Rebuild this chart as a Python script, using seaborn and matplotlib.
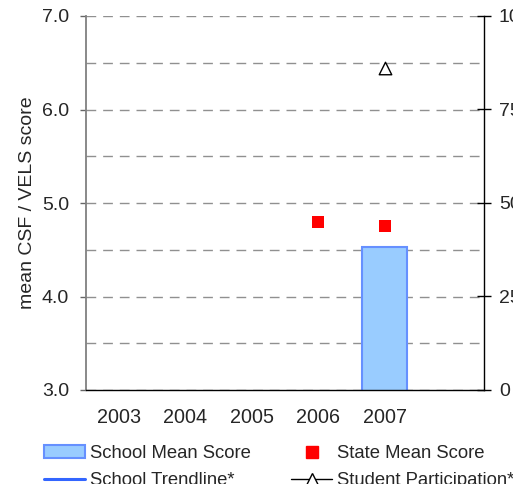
import numpy as np
import pandas as pd
import matplotlib
matplotlib.use("Agg")
import matplotlib.pyplot as plt
import seaborn as sns
from matplotlib.patches import Patch
from matplotlib.lines import Line2D

years = ["2003", "2004", "2005", "2006", "2007", " "]
school_mean = [np.nan, np.nan, np.nan, np.nan, 4.53, np.nan]
state_mean = [np.nan, np.nan, np.nan, 4.80, 4.75, np.nan]
participation = [np.nan, np.nan, np.nan, np.nan, 86.0, np.nan]
left_ticks = [3.0, 4.0, 5.0, 6.0, 7.0]
right_ticks = [0, 25, 50, 75, 100]

sns.set_style("white")
plt.rcParams["font.family"] = ["Liberation Sans", "DejaVu Sans"]

df = pd.DataFrame({"year": years, "school": school_mean,
                   "state": state_mean, "part": participation})

fig = plt.figure(figsize=(5.13, 4.84), dpi=100)
ax = fig.add_axes([86/513, 1-390/484, 398/513, 374/484])

sns.barplot(data=df.dropna(subset=["school"]), x="year", y="school", order=years,
            color="#99ccff", edgecolor="#6690ff", linewidth=1.5, width=0.675,
            saturation=1, ax=ax, zorder=2)
sns.stripplot(data=df.dropna(subset=["state"]), x="year", y="state", order=years,
              jitter=False, marker="s", color="#ff0000", size=9, linewidth=0,
              ax=ax, zorder=3)

ax.set_ylim(3.0, 7.0)
ax.set_yticks(left_ticks)
ax.set_yticklabels([f"{v:.1f}" for v in left_ticks])
ax.set_yticks(np.arange(3.5, 7.01, 0.5), minor=True)
ax.yaxis.grid(True, which="both", linestyle=(0, (7, 5)), color="#909090", linewidth=1)
ax.set_axisbelow(True)
ax.set_xlabel("")
ax.set_ylabel("mean CSF / VELS score", fontsize=14)
ax.yaxis.set_label_coords(-0.125, 0.5)
ax.tick_params(axis="y", which="major", direction="out", length=4.3, width=1,
               color="#666666", labelsize=14, pad=8)
ax.tick_params(axis="y", which="minor", length=0)
ax.tick_params(axis="x", length=0, labelsize=14.2, pad=13)
for s in ["top", "right"]:
    ax.spines[s].set_visible(False)
ax.spines["left"].set_color("#808080")
ax.spines["left"].set_linewidth(1.3)
ax.spines["bottom"].set_color("black")
ax.spines["bottom"].set_linewidth(1)

ax2 = ax.twinx()
sns.stripplot(data=df.dropna(subset=["part"]), x="year", y="part", order=years,
              jitter=False, marker="^", color="white", edgecolor="black",
              linewidth=1, size=9, ax=ax2, zorder=3)
ax2.set_ylim(0, 100)
ax2.set_yticks(right_ticks)
ax2.set_ylabel("")
ax2.tick_params(axis="y", direction="inout", length=9.4, width=1, color="black",
                labelsize=14, pad=6)
for s in ["top", "left", "bottom"]:
    ax2.spines[s].set_visible(False)
ax2.spines["right"].set_color("black")
ax2.spines["right"].set_linewidth(1)

handles = [
    Patch(facecolor="#99ccff", edgecolor="#6690ff", linewidth=1.5),
    Line2D([], [], color="#3366ff", linewidth=2.2),
    Line2D([], [], linestyle="none", marker="s", color="#ff0000", markersize=9),
    Line2D([], [], color="black", linewidth=1, marker="^", markerfacecolor="white",
           markeredgecolor="black", markersize=9),
]
labels = ["School Mean Score", "School Trendline*", "State Mean Score",
          "Student Participation*"]
fig.legend(handles, labels, ncol=2, loc="upper left",
           bbox_to_anchor=(44/513, 1-445/484), frameon=False, fontsize=13.3,
           borderaxespad=0, borderpad=0, handlelength=2.2, handletextpad=0.28,
           columnspacing=2.2, labelspacing=0.55, handleheight=0.7)

fig.savefig("out.png", dpi=100)
